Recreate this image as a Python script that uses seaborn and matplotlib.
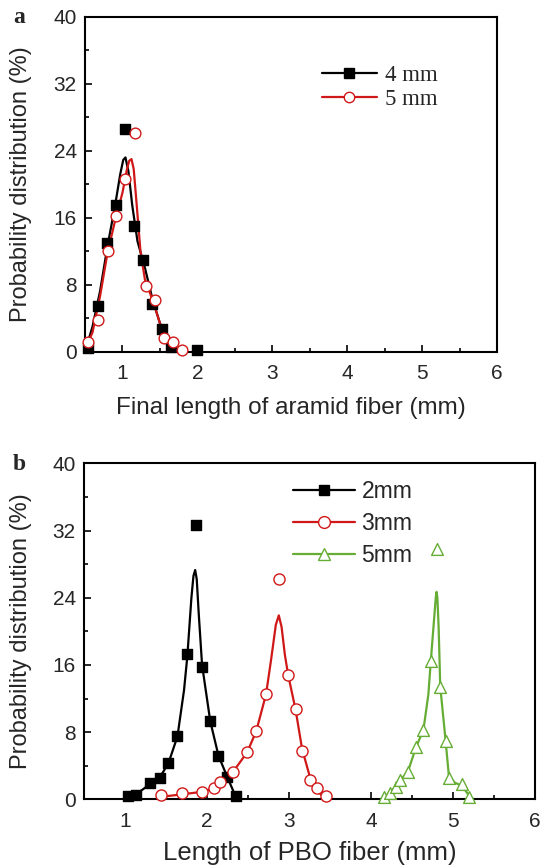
import numpy as np
import pandas as pd
import seaborn as sns
import matplotlib.pyplot as plt
from matplotlib.lines import Line2D
from matplotlib.ticker import MultipleLocator, AutoMinorLocator

# ---- panel a : aramid fiber, measured points ----
a4_x = [0.54, 0.67, 0.79, 0.91, 1.04, 1.16, 1.28, 1.40, 1.53, 1.65, 1.99]
a4_y = [0.5, 5.4, 13.0, 17.5, 26.6, 15.0, 11.0, 5.7, 2.7, 0.6, 0.2]
a5_x = [0.54, 0.67, 0.80, 0.92, 1.04, 1.17, 1.31, 1.43, 1.56, 1.67, 1.79]
a5_y = [1.2, 3.8, 12.0, 16.2, 20.6, 26.1, 7.9, 6.2, 1.6, 1.2, 0.2]

# panel a fitted curves
a4_fit_x = [0.5, 0.6, 0.7, 0.8, 0.9, 0.97, 1.01, 1.04, 1.08, 1.13, 1.2, 1.3, 1.4, 1.5, 1.6, 1.7, 1.8]
a4_fit_y = [0.0, 3.0, 7.2, 12.6, 17.4, 21.2, 22.9, 23.2, 21.5, 17.5, 13.2, 10.0, 6.3, 3.4, 1.4, 0.4, 0.1]
a5_fit_x = [0.5, 0.6, 0.7, 0.8, 0.9, 1.0, 1.06, 1.09, 1.12, 1.15, 1.19, 1.24, 1.3, 1.4, 1.5, 1.6, 1.7, 1.8]
a5_fit_y = [0.3, 2.3, 6.6, 11.8, 15.6, 19.0, 21.8, 22.8, 23.0, 21.8, 17.5, 12.0, 8.6, 6.2, 3.4, 1.4, 0.4, 0.1]

# ---- panel b : PBO fiber, measured points ----
b2_x = [1.04, 1.13, 1.30, 1.43, 1.53, 1.64, 1.76, 1.87, 1.94, 2.04, 2.14, 2.25, 2.35]
b2_y = [0.4, 0.5, 1.9, 2.6, 4.3, 7.5, 17.3, 32.7, 15.8, 9.3, 5.2, 2.7, 0.4]
b3_x = [1.44, 1.70, 1.94, 2.08, 2.16, 2.32, 2.49, 2.60, 2.72, 2.88, 2.99, 3.08, 3.16, 3.26, 3.34, 3.45]
b3_y = [0.5, 0.7, 0.9, 1.3, 2.1, 3.3, 5.6, 8.1, 12.6, 26.2, 14.8, 10.7, 5.7, 2.3, 1.3, 0.4]
b5_x = [4.16, 4.23, 4.30, 4.36, 4.45, 4.55, 4.64, 4.73, 4.80, 4.84, 4.91, 4.95, 5.11, 5.20]
b5_y = [0.3, 0.8, 1.5, 2.3, 3.3, 6.2, 8.3, 16.5, 29.8, 13.4, 7.0, 2.6, 1.8, 0.3]

# panel b fitted curves
b2_fit_x = [1.02, 1.13, 1.22, 1.30, 1.43, 1.53, 1.64, 1.72, 1.76, 1.81, 1.835, 1.856, 1.875, 1.90, 1.94, 2.04, 2.14, 2.25, 2.36]
b2_fit_y = [0.1, 0.6, 1.2, 1.8, 2.7, 4.3, 7.5, 13.0, 17.0, 24.0, 26.6, 27.3, 26.2, 22.0, 16.0, 9.3, 5.2, 2.6, 0.1]
b3_fit_x = [1.44, 1.70, 1.94, 2.08, 2.16, 2.32, 2.49, 2.60, 2.72, 2.78, 2.84, 2.876, 2.91, 2.95, 2.99, 3.08, 3.16, 3.26, 3.34, 3.45]
b3_fit_y = [0.3, 0.6, 0.9, 1.3, 2.0, 3.3, 5.6, 8.1, 12.5, 16.5, 20.8, 21.9, 20.5, 17.2, 14.8, 10.7, 6.0, 2.5, 1.0, 0.1]
b5_fit_x = [4.12, 4.22, 4.30, 4.36, 4.45, 4.55, 4.64, 4.70, 4.73, 4.77, 4.79, 4.80, 4.81, 4.825, 4.845, 4.91, 4.95, 5.02, 5.11, 5.20, 5.25]
b5_fit_y = [0.0, 0.7, 1.5, 2.3, 3.3, 6.2, 8.3, 12.5, 16.5, 21.5, 24.0, 24.7, 24.0, 20.5, 13.4, 7.0, 2.8, 2.0, 1.6, 0.4, 0.0]

RED = '#d01818'
GREEN = '#66ad35'

sns.set_style('ticks')
plt.rcParams['font.family'] = ['Liberation Sans', 'DejaVu Sans']

fig = plt.figure(figsize=(5.44, 8.68), dpi=100)
ax_a = fig.add_axes([0.1563, 0.5948, 0.7574, 0.3859])
ax_b = fig.add_axes([0.1544, 0.0791, 0.8290, 0.3871])


def curve(ax, x, y, color):
    sns.lineplot(x=x, y=y, ax=ax, color=color, lw=1.6, estimator=None, sort=False, zorder=2)


def points(ax, x, y, color, marker, filled, size):
    face = color if filled else 'white'
    sns.scatterplot(x=x, y=y, ax=ax, marker=marker, s=size, facecolor=face,
                    edgecolor=color, linewidth=1.0, zorder=3, clip_on=False)


# panel a
curve(ax_a, a4_fit_x, a4_fit_y, 'black')
curve(ax_a, a5_fit_x, a5_fit_y, RED)
points(ax_a, a4_x, a4_y, 'black', 's', True, 48)
points(ax_a, a5_x, a5_y, RED, 'o', False, 60)

# panel b
curve(ax_b, b2_fit_x, b2_fit_y, 'black')
curve(ax_b, b3_fit_x, b3_fit_y, RED)
curve(ax_b, b5_fit_x, b5_fit_y, GREEN)
points(ax_b, b2_x, b2_y, 'black', 's', True, 50)
points(ax_b, b3_x, b3_y, RED, 'o', False, 64)
points(ax_b, b5_x, b5_y, GREEN, '^', False, 72)

for ax in (ax_a, ax_b):
    ax.set_xlim(0.5, 6)
    ax.set_ylim(0, 40)
    ax.xaxis.set_major_locator(MultipleLocator(1))
    ax.yaxis.set_major_locator(MultipleLocator(8))
    ax.xaxis.set_minor_locator(AutoMinorLocator(2))
    ax.yaxis.set_minor_locator(AutoMinorLocator(2))
    ax.tick_params(which='both', direction='in', width=1.4, top=False, right=False)
    ax.tick_params(which='major', length=5)
    ax.tick_params(which='minor', length=3)
    ax.tick_params(axis='x', labelsize=15, pad=9)
    ax.tick_params(axis='y', labelsize=15, pad=6)
    for sp in ax.spines.values():
        sp.set_visible(True)
        sp.set_linewidth(1.5)
        sp.set_color('black')
    ax.set_ylabel('Probability distribution (%)', fontsize=17)

ax_a.set_xlabel('Final length of aramid fiber (mm)', fontsize=17.5)
ax_b.set_xlabel('Length of PBO fiber (mm)', fontsize=18.5)
ax_a.yaxis.set_label_coords(-0.129, 0.5)
ax_b.yaxis.set_label_coords(-0.115, 0.5)
ax_a.xaxis.set_label_coords(0.5, -0.168)
ax_b.xaxis.set_label_coords(0.5, -0.160)
ax_a.xaxis.label.set_verticalalignment('center')
ax_b.xaxis.label.set_verticalalignment('center')

# legends
h_a = [Line2D([], [], color='black', lw=1.6, marker='s', ms=6.5, mfc='black', mec='black'),
       Line2D([], [], color=RED, lw=1.6, marker='o', ms=7.5, mfc='white', mec=RED)]
ax_a.legend(h_a, ['4 mm', '5 mm'], loc='upper left', bbox_to_anchor=(0.575, 0.855),
            frameon=False, numpoints=1, handlelength=2.4, handletextpad=0.35,
            labelspacing=0.1, borderpad=0, borderaxespad=0,
            prop={'family': 'Liberation Serif', 'size': 16.5})

h_b = [Line2D([], [], color='black', lw=1.6, marker='s', ms=7, mfc='black', mec='black'),
       Line2D([], [], color=RED, lw=1.6, marker='o', ms=8.5, mfc='white', mec=RED),
       Line2D([], [], color=GREEN, lw=1.6, marker='^', ms=9, mfc='white', mec=GREEN)]
ax_b.legend(h_b, ['2mm', '3mm', '5mm'], loc='upper left', bbox_to_anchor=(0.463, 0.95),
            frameon=False, numpoints=1, handlelength=2.7, handletextpad=0.3,
            labelspacing=0.38, borderpad=0, borderaxespad=0,
            prop={'family': 'Liberation Sans', 'size': 16.5})

fig.text(13 / 544, 1 - 23 / 868, 'a', fontsize=17, fontweight='bold',
         family='Liberation Serif', va='baseline', ha='left')
fig.text(13 / 544, 1 - 470 / 868, 'b', fontsize=17, fontweight='bold',
         family='Liberation Serif', va='baseline', ha='left')

fig.savefig('out.png', dpi=100)
